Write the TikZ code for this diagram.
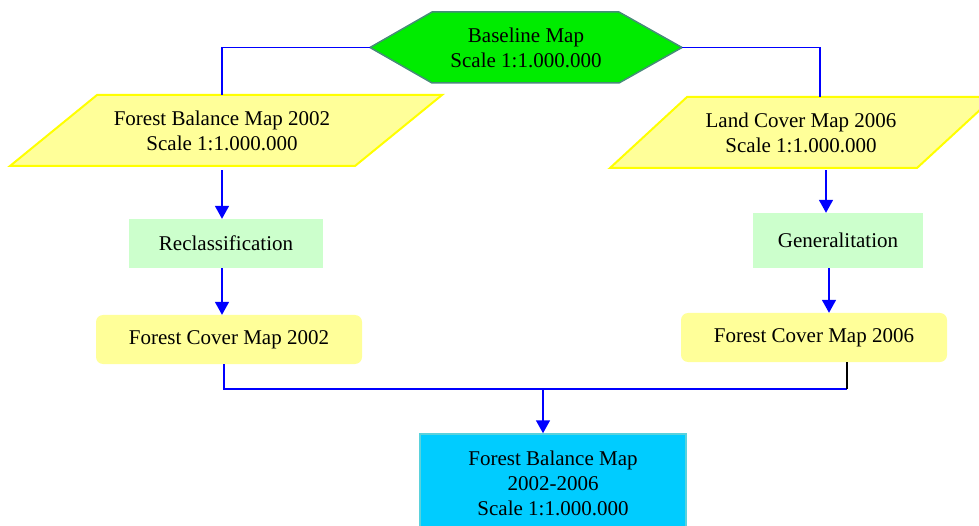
\documentclass[tikz,border=0pt]{standalone}
\usepackage{fontspec}
\setmainfont{Liberation Serif}
\usetikzlibrary{arrows.meta,calc}
\definecolor{hexgreen}{RGB}{0,236,0}
\definecolor{hexborder}{RGB}{70,140,120}
\definecolor{paryellow}{RGB}{255,255,153}
\definecolor{paredge}{RGB}{255,255,0}
\definecolor{procgreen}{RGB}{204,255,204}
\definecolor{outcyan}{RGB}{0,204,255}
\definecolor{outedge}{RGB}{90,210,220}
\definecolor{linkblue}{RGB}{0,0,255}
\begin{document}
\begin{tikzpicture}[x=1pt,y=-1pt,
  txt/.style={align=center,font=\fontsize{21}{25}\selectfont,inner sep=0pt},
  link/.style={draw=linkblue,line width=1.6pt},
  arr/.style={link,-{Triangle[width=14pt,length=13pt]}},
  procbox/.style={txt,fill=procgreen},
  mapbox/.style={txt,fill=paryellow,rounded corners=7pt},
  para/.style={fill=paryellow,draw=paredge,line width=2pt,line join=miter}
]
\useasboundingbox (0,0) rectangle (979,526);
\clip (0,0) rectangle (979,526);

% hexagon
\draw[fill=hexgreen,draw=hexborder,line width=1.5pt]
  (370,47.5) -- (432,12) -- (619,12) -- (682,47.5) -- (619,83) -- (432,83) -- cycle;
\node[txt,minimum width=312pt,minimum height=71pt] (base) at (526,47.5) {Baseline Map\\Scale 1:1.000.000};

% parallelograms
\draw[para] (97,95) -- (442,95) -- (355,166) -- (10,166) -- cycle;
\node[txt,minimum height=71pt] (fbm) at (222,130.5) {Forest Balance Map 2002\\Scale 1:1.000.000};
\draw[para] (687,97) -- (994,97) -- (917,168) -- (610,168) -- cycle;
\node[txt,minimum height=71pt] (lcm) at (801,132.5) {Land Cover Map 2006\\Scale 1:1.000.000};

% process boxes
\node[procbox,minimum width=194pt,minimum height=49pt] (recl) at (226,243.5) {Reclassification};
\node[procbox,minimum width=170pt,minimum height=55pt] (gen) at (838,240.5) {Generalitation};

% intermediate maps
\node[mapbox,minimum width=266pt,minimum height=49pt] (fcm02) at (229,339.5) {Forest Cover Map 2002};
\node[mapbox,minimum width=266pt,minimum height=49pt] (fcm06) at (814,337.5) {Forest Cover Map 2006};

% output
\node[txt,fill=outcyan,draw=outedge,line width=1.5pt,minimum width=266pt,minimum height=98pt] (fbal) at (553,483)
  {Forest Balance Map\\2002-2006\\Scale 1:1.000.000};

% connectors
\draw[link] (base.west) -| (fbm.north);
\draw[link] (base.east) -| ([xshift=19pt]lcm.north);

\draw[arr,shorten <=4pt] (fbm.south) -- (fbm.south |- recl.north);
\draw[arr] ([xshift=-4pt]recl.south) -- ([xshift=-4pt]recl.south |- fcm02.north);

\draw[arr,shorten <=2pt] ([xshift=25pt]lcm.south) -- ([xshift=25pt]lcm.south |- gen.north);
\draw[arr] ([xshift=-9pt]gen.south) -- ([xshift=-9pt]gen.south |- fcm06.north);

\coordinate (jr) at (847,389);
\coordinate (jm) at (543,389);
\draw[link] ([xshift=-5pt]fcm02.south) |- (jr);
\draw[black,line width=1.6pt] (jr) -- (jr |- fcm06.south);
\draw[arr] (jm) -- (jm |- fbal.north);
\end{tikzpicture}
\end{document}
